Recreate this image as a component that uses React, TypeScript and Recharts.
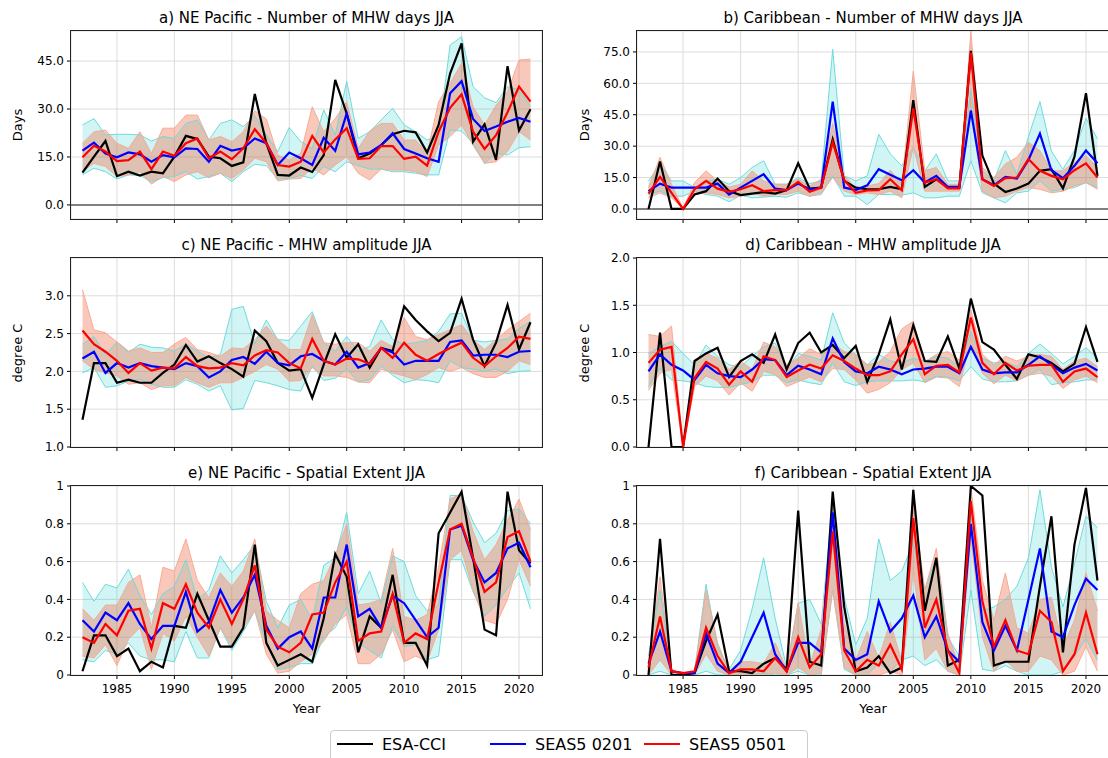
import React from 'react';
import { ComposedChart, Line, Area, XAxis, YAxis, CartesianGrid, ReferenceLine } from 'recharts';

// ---------- data ----------
const years = [1982, 1983, 1984, 1985, 1986, 1987, 1988, 1989, 1990, 1991, 1992, 1993, 1994, 1995, 1996, 1997, 1998, 1999, 2000, 2001, 2002, 2003, 2004, 2005, 2006, 2007, 2008, 2009, 2010, 2011, 2012, 2013, 2014, 2015, 2016, 2017, 2018, 2019, 2020, 2021];
const xTicks = [1985, 1990, 1995, 2000, 2005, 2010, 2015, 2020];

// a) NE Pacific - days
const aObs = [10.1, 15.1, 20, 9, 10.4, 9.2, 10.4, 9.9, 15.1, 21.6, 20.6, 15.1, 14.6, 12.2, 13.3, 34.7, 19.3, 9.4, 9.2, 11.7, 10.3, 15.6, 39.1, 28.6, 14.6, 16.1, 18.7, 22.1, 23.2, 22.7, 16.4, 25, 41.1, 50.5, 19.8, 25.2, 14.1, 43.4, 23.3, 29.9];
const aS2 = [17, 19.5, 16.1, 14.9, 16.4, 15.8, 13.5, 15.6, 14.9, 17.7, 17.5, 13.5, 18.5, 17, 17.7, 20.8, 19.3, 12.5, 16.4, 14.6, 12.5, 21, 16.9, 28.6, 15.8, 16.4, 18.7, 22.4, 17.5, 16.1, 14.6, 13.5, 34.9, 38.7, 26.9, 23.1, 24.5, 26, 27.2, 26];
const aS5 = [14.9, 18.5, 16.7, 13.7, 14, 16.7, 11.2, 16.7, 15.4, 19.3, 20.8, 14.6, 16.7, 14.3, 17.7, 23.7, 19.3, 12.5, 12, 13.5, 21.6, 16.4, 20.5, 24, 14.4, 14.6, 18.4, 18.4, 14.4, 15.1, 12.3, 22.9, 30.4, 34.6, 22.9, 17.5, 21.8, 29, 37, 32.3];
const aS2Lo = [9.4, 11.5, 10.4, 8.1, 9.4, 9.2, 7.3, 8.5, 8.9, 10.4, 8.1, 8.9, 9.9, 7.3, 10.4, 12.7, 12.3, 8.1, 8.3, 9.2, 8.3, 12, 10.4, 13.5, 12.3, 11.2, 11.2, 10.4, 10.4, 9.9, 9.4, 9.4, 23.4, 23.1, 19.3, 13, 16.1, 15.6, 17.9, 18.2];
const aS2Hi = [25, 27, 21.9, 22.1, 22.1, 21.9, 20, 21.4, 20.8, 25.5, 26.6, 20.3, 25.5, 26.6, 24.5, 27.9, 21.9, 16.7, 24.2, 19.8, 17.7, 29.7, 21.9, 38.7, 20.8, 22.9, 26.6, 30.2, 25, 22.9, 20.3, 21.9, 50, 52.6, 37, 33.5, 32, 37, 36, 31];
const aS5Lo = [10.4, 13, 12, 8.9, 9.4, 10.4, 6.5, 8.9, 7.3, 9.4, 10.4, 8.5, 9.9, 8.3, 10.9, 14.6, 13.5, 7.5, 8.1, 8.3, 11.5, 9.4, 12.5, 15.1, 9.9, 7.8, 11.2, 10.9, 10.9, 10.4, 8.9, 18.7, 21.4, 25, 18.7, 13, 13.5, 16.7, 22.9, 20.3];
const aS5Hi = [19.3, 22.9, 23.4, 19.3, 17.7, 22.9, 16.1, 24, 24, 28.1, 28.1, 20.3, 21.4, 19.8, 22.9, 29.4, 26.9, 15.6, 14.1, 16.1, 30.7, 22.9, 27, 32.3, 17.7, 23.1, 25.5, 25.5, 20.3, 20.3, 16.1, 32.3, 38, 44.3, 30.7, 25, 31.2, 35.4, 45.3, 45.6];

// b) Caribbean - days
const bObs = [0, 22.7, 0, 0, 6.9, 8.5, 14.5, 8.5, 6.6, 7.3, 8, 7.3, 9, 21.8, 9.7, 10.2, 33.2, 13.4, 10.2, 9.4, 9.4, 10.5, 9.4, 52, 10.5, 14.2, 10.2, 10.2, 75.5, 25.5, 12.1, 8.1, 9.8, 12.1, 18.2, 19, 9.8, 25, 55.3, 15.8];
const bS2 = [8.5, 12.1, 10.2, 10.2, 10.2, 10.2, 12.1, 6.9, 10.2, 13.4, 16.6, 9.7, 9, 12.1, 9.4, 10.2, 51.3, 10.2, 9, 11.3, 19, 16.3, 13.7, 18.5, 12.6, 15.8, 10.5, 10.5, 47, 14.2, 11.3, 15.3, 14.5, 23.4, 36, 18.5, 14.7, 20.6, 27.9, 21.8];
const bS5 = [7.3, 15.3, 7.7, 0, 9.4, 13.4, 9.7, 8.2, 9.4, 11.3, 8.5, 9, 9, 12.9, 8.2, 10.2, 31.9, 13.7, 7.7, 8.9, 9, 14.2, 8.9, 48, 12.6, 14.2, 9.8, 9.8, 74.7, 14.2, 11, 14.7, 15, 23.9, 18.2, 15.8, 14.2, 18.5, 21.8, 15];
const bS2Lo = [6.9, 8.5, 6.1, 6.1, 8.5, 6.9, 6.1, 3.4, 6.6, 5.3, 5.6, 6.1, 5.6, 7.7, 6.1, 6.9, 15.8, 6.1, 6.1, 2.1, 6.9, 6.9, 6.6, 7.7, 5.3, 5.3, 6.1, 6.1, 23, 7.7, 5.3, 2.9, 7.7, 8.5, 13.4, 8.5, 9.4, 10.2, 12.6, 10.2];
const bS2Hi = [13.4, 21.5, 13.4, 13.4, 10.2, 13.4, 14.2, 11.8, 15, 19.8, 23, 11.8, 11.8, 15, 12.1, 13.4, 76.3, 15.8, 13.4, 15.8, 35.6, 26.3, 20.6, 29.5, 18.2, 26.3, 13.4, 13.4, 57, 18.2, 13.4, 27.9, 16.6, 34.4, 51.3, 27.6, 19, 27.9, 43.2, 33.5];
const bS5Lo = [5.3, 7.7, 5.3, 0, 6.9, 7.7, 6.9, 5.3, 6.1, 7.7, 6.1, 6.9, 6.9, 8.5, 6.1, 7.7, 15, 8.5, 6.9, 7.7, 6.9, 8.5, 5.3, 29.5, 8.5, 8.5, 8.5, 8.5, 48.9, 8.5, 5.3, 6.1, 8.5, 10.2, 9.4, 7.7, 8.5, 11, 12.6, 9.4];
const bS5Hi = [10.2, 24.7, 11.8, 0.3, 12.6, 18.2, 13.4, 10.5, 11.8, 18.2, 13.4, 11.8, 11.8, 14.2, 11, 14.2, 40.8, 15.8, 10.2, 11, 12.1, 18.5, 12.1, 65.8, 18.2, 19.8, 11.8, 11.8, 85, 19.8, 15, 21.5, 24.7, 31.9, 27.9, 18.2, 18.2, 22.3, 25.5, 19.8];

// c) NE Pacific - amplitude
const cObs = [1.36, 2.11, 2.11, 1.85, 1.89, 1.85, 1.85, 1.98, 2.09, 2.35, 2.13, 2.2, 2.11, 2.03, 1.93, 2.54, 2.4, 2.11, 2.01, 2.03, 1.65, 2.09, 2.49, 2.18, 2.36, 2.05, 2.31, 2.27, 2.86, 2.68, 2.53, 2.4, 2.51, 2.96, 2.42, 2.07, 2.38, 2.88, 2.29, 2.65];
const cS2 = [2.17, 2.26, 1.98, 2.11, 2.05, 2.11, 2.07, 2.05, 2.03, 2.11, 2.07, 1.92, 2.0, 2.15, 2.19, 2.1, 2.26, 2.11, 2.08, 2.2, 2.23, 2.14, 2.09, 2.26, 2.05, 2.11, 2.31, 2.25, 2.09, 2.14, 2.14, 2.14, 2.39, 2.41, 2.21, 2.22, 2.22, 2.19, 2.26, 2.27];
const cS5 = [2.54, 2.36, 2.26, 2.14, 1.98, 2.11, 2.01, 2.05, 2.04, 2.19, 2.07, 2.04, 2.05, 2.11, 2.08, 2.21, 2.28, 2.25, 2.11, 2.04, 2.43, 2.14, 2.09, 2.17, 2.16, 2.1, 2.31, 2.18, 2.38, 2.22, 2.14, 2.23, 2.31, 2.38, 2.18, 2.07, 2.2, 2.31, 2.46, 2.43];
const cS2Lo = [1.98, 2.05, 1.79, 1.81, 1.87, 1.89, 1.83, 1.79, 1.79, 1.89, 1.83, 1.74, 1.81, 1.49, 1.51, 1.88, 1.85, 1.81, 1.76, 1.74, 2.07, 1.88, 1.91, 2.03, 1.86, 1.89, 2.07, 1.95, 1.85, 1.89, 1.88, 1.85, 2.14, 2.05, 2.03, 2.0, 2.03, 1.97, 2.0, 2.01];
const cS2Hi = [2.36, 2.46, 2.22, 2.39, 2.25, 2.36, 2.32, 2.31, 2.27, 2.36, 2.27, 2.18, 2.22, 2.82, 2.86, 2.36, 2.68, 2.42, 2.41, 2.6, 2.79, 2.38, 2.27, 2.46, 2.27, 2.33, 2.68, 2.42, 2.36, 2.38, 2.41, 2.53, 2.76, 2.77, 2.41, 2.39, 2.41, 2.43, 2.57, 2.66];
const cS5Lo = [2.14, 2.03, 1.98, 1.94, 1.83, 1.85, 1.76, 1.81, 1.81, 1.92, 1.85, 1.79, 1.85, 1.85, 1.92, 2.0, 2.09, 2.03, 1.87, 1.88, 2.05, 1.94, 1.94, 1.92, 1.86, 1.85, 2.03, 1.98, 1.94, 1.89, 1.96, 2.05, 2.0, 2.05, 1.97, 1.92, 1.92, 2.0, 2.14, 2.09];
const cS5Hi = [3.08, 2.55, 2.51, 2.39, 2.27, 2.31, 2.25, 2.25, 2.36, 2.45, 2.29, 2.25, 2.2, 2.31, 2.3, 2.42, 2.6, 2.42, 2.29, 2.29, 2.75, 2.38, 2.36, 2.38, 2.38, 2.27, 2.41, 2.33, 2.71, 2.46, 2.42, 2.49, 2.55, 2.62, 2.42, 2.29, 2.42, 2.55, 2.66, 2.77];

// d) Caribbean - amplitude
const dObs = [0, 1.21, 0, 0, 0.91, 0.99, 1.05, 0.74, 0.91, 0.98, 0.89, 1.19, 0.82, 1.1, 1.21, 1.0, 1.08, 0.94, 1.07, 0.69, 0.98, 1.35, 0.82, 1.29, 0.91, 0.9, 1.17, 0.83, 1.57, 1.11, 1.03, 0.87, 0.72, 0.98, 0.95, 0.89, 0.8, 0.88, 1.27, 0.9];
const dS2 = [0.8, 0.98, 0.87, 0.81, 0.71, 0.87, 0.78, 0.75, 0.74, 0.82, 0.93, 0.92, 0.76, 0.86, 0.82, 0.77, 1.15, 0.9, 0.8, 0.78, 0.85, 0.82, 0.77, 0.82, 0.83, 0.85, 0.85, 0.78, 1.06, 0.82, 0.78, 0.79, 0.79, 0.87, 0.96, 0.87, 0.78, 0.84, 0.88, 0.81];
const dS5 = [0.89, 1.03, 1.06, 0, 0.73, 0.9, 0.83, 0.66, 0.8, 0.69, 0.96, 0.92, 0.74, 0.81, 0.87, 0.83, 0.97, 0.91, 0.83, 0.76, 0.76, 0.8, 0.98, 1.14, 0.77, 0.86, 0.87, 0.79, 1.37, 0.89, 0.77, 0.89, 0.81, 0.86, 0.87, 0.87, 0.69, 0.8, 0.83, 0.74];
const dS2Lo = [0.64, 0.83, 0.71, 0.7, 0.68, 0.64, 0.63, 0.63, 0.66, 0.69, 0.76, 0.76, 0.68, 0.71, 0.68, 0.66, 0.89, 0.69, 0.65, 0.69, 0.7, 0.7, 0.7, 0.71, 0.69, 0.75, 0.74, 0.7, 0.85, 0.72, 0.69, 0.69, 0.7, 0.76, 0.82, 0.66, 0.68, 0.69, 0.71, 0.71];
const dS2Hi = [0.99, 1.06, 1.12, 0.99, 0.87, 1.08, 0.96, 0.87, 0.85, 0.96, 1.06, 1.1, 0.83, 0.99, 0.96, 0.92, 1.42, 1.1, 0.98, 0.87, 0.98, 0.91, 0.89, 0.94, 0.91, 0.96, 0.94, 0.85, 1.22, 0.94, 0.89, 0.9, 0.85, 0.99, 1.09, 0.99, 0.88, 0.96, 1.05, 0.94];
const dS5Lo = [0.6, 0.78, 0.82, 0, 0.64, 0.75, 0.7, 0.55, 0.68, 0.59, 0.8, 0.77, 0.64, 0.69, 0.74, 0.69, 0.83, 0.82, 0.71, 0.57, 0.61, 0.68, 0.82, 0.89, 0.68, 0.74, 0.73, 0.64, 1.12, 0.78, 0.67, 0.76, 0.7, 0.76, 0.78, 0.75, 0.62, 0.71, 0.75, 0.68];
const dS5Hi = [1.19, 1.17, 1.28, 0, 0.9, 0.99, 0.94, 0.82, 0.91, 0.82, 1.11, 1.06, 0.87, 0.94, 1.04, 0.98, 1.1, 1.01, 0.98, 0.87, 0.9, 1.01, 1.25, 1.33, 0.9, 0.98, 1.01, 0.92, 1.45, 0.98, 0.87, 0.96, 0.91, 0.96, 0.98, 0.96, 0.82, 0.91, 0.94, 0.85];

// e) NE Pacific - spatial extent
const eObs = [0.02, 0.21, 0.21, 0.1, 0.14, 0.02, 0.07, 0.04, 0.26, 0.25, 0.43, 0.29, 0.15, 0.15, 0.25, 0.69, 0.17, 0.05, 0.08, 0.11, 0.07, 0.3, 0.64, 0.52, 0.12, 0.31, 0.25, 0.53, 0.17, 0.17, 0.05, 0.75, 0.86, 0.97, 0.62, 0.24, 0.21, 0.97, 0.66, 0.59];
const eS2 = [0.29, 0.23, 0.33, 0.29, 0.38, 0.27, 0.19, 0.26, 0.26, 0.44, 0.23, 0.28, 0.45, 0.33, 0.41, 0.53, 0.26, 0.14, 0.2, 0.23, 0.14, 0.41, 0.41, 0.69, 0.31, 0.35, 0.25, 0.42, 0.38, 0.29, 0.2, 0.25, 0.77, 0.79, 0.61, 0.49, 0.54, 0.67, 0.7, 0.57];
const eS5 = [0.2, 0.17, 0.27, 0.21, 0.34, 0.35, 0.14, 0.38, 0.35, 0.48, 0.33, 0.25, 0.4, 0.27, 0.4, 0.58, 0.24, 0.15, 0.12, 0.17, 0.32, 0.33, 0.49, 0.6, 0.18, 0.22, 0.23, 0.43, 0.17, 0.22, 0.19, 0.49, 0.77, 0.8, 0.62, 0.44, 0.49, 0.73, 0.76, 0.6];
const eS2Lo = [0.08, 0.07, 0.13, 0.11, 0.17, 0.1, 0.08, 0.08, 0.07, 0.23, 0.09, 0.09, 0.25, 0.13, 0.23, 0.34, 0.17, 0.03, 0.04, 0.06, 0.06, 0.2, 0.25, 0.36, 0.17, 0.13, 0.09, 0.26, 0.15, 0.16, 0.08, 0.1, 0.61, 0.61, 0.44, 0.31, 0.37, 0.46, 0.54, 0.35];
const eS2Hi = [0.49, 0.39, 0.48, 0.46, 0.56, 0.42, 0.32, 0.43, 0.47, 0.61, 0.4, 0.45, 0.63, 0.54, 0.61, 0.69, 0.39, 0.25, 0.37, 0.4, 0.29, 0.58, 0.62, 0.86, 0.43, 0.55, 0.38, 0.63, 0.6, 0.42, 0.34, 0.37, 0.95, 0.95, 0.81, 0.7, 0.75, 0.87, 0.88, 0.8];
const eS5Lo = [0.1, 0.09, 0.16, 0.05, 0.19, 0.25, 0.03, 0.22, 0.18, 0.31, 0.2, 0.1, 0.25, 0.15, 0.25, 0.34, 0.11, 0.01, 0.02, 0.07, 0.11, 0.18, 0.27, 0.32, 0.06, 0.06, 0.11, 0.24, 0.07, 0.1, 0.07, 0.24, 0.61, 0.66, 0.45, 0.29, 0.27, 0.4, 0.61, 0.47];
const eS5Hi = [0.35, 0.29, 0.37, 0.37, 0.49, 0.53, 0.25, 0.57, 0.55, 0.72, 0.5, 0.41, 0.54, 0.47, 0.55, 0.72, 0.34, 0.29, 0.25, 0.43, 0.48, 0.5, 0.63, 0.8, 0.37, 0.38, 0.4, 0.67, 0.31, 0.29, 0.32, 0.57, 0.93, 0.96, 0.76, 0.61, 0.69, 0.82, 0.93, 0.77];

// f) Caribbean - spatial extent
const fObs = [0, 0.72, 0, 0, 0.01, 0.18, 0.32, 0.02, 0.02, 0.01, 0.06, 0.09, 0.03, 0.87, 0.07, 0.05, 0.97, 0.36, 0.02, 0.04, 0.1, 0.01, 0.04, 0.98, 0.34, 0.62, 0.05, 0.08, 1.0, 0.95, 0.05, 0.07, 0.07, 0.07, 0.47, 0.84, 0.12, 0.69, 0.99, 0.5];
const fS2 = [0.06, 0.23, 0.02, 0.01, 0.01, 0.22, 0.06, 0.01, 0.07, 0.2, 0.33, 0.11, 0.02, 0.17, 0.17, 0.12, 0.86, 0.14, 0.08, 0.11, 0.39, 0.23, 0.3, 0.42, 0.2, 0.31, 0.13, 0.07, 0.8, 0.28, 0.13, 0.26, 0.13, 0.4, 0.67, 0.23, 0.2, 0.37, 0.51, 0.45];
const fS5 = [0.04, 0.31, 0.02, 0.01, 0.02, 0.25, 0.1, 0.01, 0.03, 0.03, 0.02, 0.09, 0.02, 0.2, 0.04, 0.11, 0.76, 0.13, 0.02, 0.08, 0.05, 0.16, 0.03, 0.83, 0.25, 0.4, 0.13, 0.01, 0.92, 0.39, 0.15, 0.29, 0.13, 0.11, 0.34, 0.28, 0.02, 0.11, 0.33, 0.11];
const fS2Lo = [0, 0.02, 0, 0, 0, 0.02, 0, 0, 0, 0, 0.01, 0, 0, 0.02, 0, 0, 0.45, 0.03, 0, 0, 0.06, 0.02, 0.08, 0.1, 0.05, 0.08, 0.02, 0, 0.45, 0.03, 0.02, 0.05, 0.02, 0, 0, 0, 0.02, 0.1, 0.19, 0.08];
const fS2Hi = [0.1, 0.45, 0.02, 0.01, 0.02, 0.48, 0.15, 0.03, 0.13, 0.35, 0.62, 0.3, 0.04, 0.38, 0.4, 0.27, 0.92, 0.41, 0.16, 0.3, 0.72, 0.5, 0.55, 0.7, 0.45, 0.62, 0.2, 0.1, 0.85, 0.34, 0.36, 0.4, 0.47, 0.62, 0.98, 0.57, 0.36, 0.59, 0.84, 0.78];
const fS5Lo = [0, 0.08, 0, 0, 0, 0.11, 0.02, 0, 0, 0, 0, 0.01, 0, 0.04, 0, 0.01, 0.45, 0.04, 0, 0, 0, 0.02, 0, 0.55, 0.08, 0.14, 0.02, 0, 0.73, 0.2, 0.02, 0.08, 0.02, 0.02, 0.1, 0.08, 0, 0.02, 0.15, 0.02];
const fS5Hi = [0.08, 0.52, 0.03, 0.01, 0.01, 0.45, 0.17, 0.02, 0.07, 0.07, 0.06, 0.17, 0.03, 0.38, 0.05, 0.24, 0.88, 0.27, 0.08, 0.23, 0.09, 0.28, 0.07, 0.91, 0.45, 0.67, 0.22, 0.04, 0.99, 0.5, 0.29, 0.54, 0.25, 0.22, 0.4, 0.41, 0.15, 0.29, 0.54, 0.34];

const daysTicksA = [0, 15, 30, 45];
const daysTicksB = [0, 15, 30, 45, 60, 75];
const ampTicksC = [1.0, 1.5, 2.0, 2.5, 3.0];
const ampTicksD = [0.0, 0.5, 1.0, 1.5, 2.0];
const extTicks = [0, 0.2, 0.4, 0.6, 0.8, 1];

// ---------- helpers ----------
function buildRows(obs: number[], s2: number[], s5: number[], s2lo: number[], s2hi: number[], s5lo: number[], s5hi: number[]) {
  return years.map((year, i) => ({
    year,
    obs: obs[i],
    s2: s2[i],
    s5: s5[i],
    s2lo: s2lo[i],
    s2hi: s2hi[i],
    s5lo: s5lo[i],
    s5hi: s5hi[i],
    s2band: [s2lo[i], s2hi[i]],
    s5band: [s5lo[i], s5hi[i]],
  }));
}

const fmt1 = (v: number) => v.toFixed(1);
const fmtExt = (v: number) => (v === 0 ? '0' : v === 1 ? '1' : String(v));

const FONT = 'DejaVu Sans, sans-serif';
const CYAN = '#00c4c4';
const CYAN_EDGE = '#6ddcdc';
const SALMON = '#f26a45';
const SALMON_EDGE = '#f7ab96';

const panels = [
  { key: 'a', title: 'a) NE Pacific - Number of MHW days JJA', rows: buildRows(aObs, aS2, aS5, aS2Lo, aS2Hi, aS5Lo, aS5Hi), x: 71, y: 31, w: 471, h: 188, domain: [-4.4, 54.4], ticks: daysTicksA, fmt: fmt1, showX: false, zero: true, ylabel: 'Days', ylx: 18 },
  { key: 'b', title: 'b) Caribbean - Number of MHW days JJA', rows: buildRows(bObs, bS2, bS5, bS2Lo, bS2Hi, bS5Lo, bS5Hi), x: 637, y: 31, w: 472, h: 188, domain: [-4.8, 85], ticks: daysTicksB, fmt: fmt1, showX: false, zero: true, ylabel: 'Days', ylx: 585 },
  { key: 'c', title: 'c) NE Pacific - MHW amplitude JJA', rows: buildRows(cObs, cS2, cS5, cS2Lo, cS2Hi, cS5Lo, cS5Hi), x: 71, y: 258, w: 471, h: 189, domain: [1, 3.5], ticks: ampTicksC, fmt: fmt1, showX: false, zero: false, ylabel: 'degree C', ylx: 18 },
  { key: 'd', title: 'd) Caribbean - MHW amplitude JJA', rows: buildRows(dObs, dS2, dS5, dS2Lo, dS2Hi, dS5Lo, dS5Hi), x: 637, y: 258, w: 472, h: 189, domain: [0, 2], ticks: ampTicksD, fmt: fmt1, showX: false, zero: false, ylabel: 'degree C', ylx: 585 },
  { key: 'e', title: 'e) NE Pacific - Spatial Extent JJA', rows: buildRows(eObs, eS2, eS5, eS2Lo, eS2Hi, eS5Lo, eS5Hi), x: 71, y: 486, w: 471, h: 189, domain: [0, 1], ticks: extTicks, fmt: fmtExt, showX: true, zero: false, ylabel: '', ylx: 18 },
  { key: 'f', title: 'f) Caribbean - Spatial Extent JJA', rows: buildRows(fObs, fS2, fS5, fS2Lo, fS2Hi, fS5Lo, fS5Hi), x: 637, y: 486, w: 472, h: 189, domain: [0, 1], ticks: extTicks, fmt: fmtExt, showX: true, zero: false, ylabel: '', ylx: 585 },
];

const YW = 60;
const MT = 6;
const MR = 6;
const XH = 30;

function Panel({ p }: { p: any }) {
  return (
    <>
      <div style={{ position: 'absolute', left: p.x - YW, top: p.y - MT }}>
        <ComposedChart width={p.w + YW + MR} height={p.h + MT + XH} data={p.rows} margin={{ top: MT, right: MR, bottom: 0, left: 0 }}>
          <CartesianGrid stroke="#dcdcdc" strokeWidth={1} />
          <XAxis
            dataKey="year"
            type="number"
            domain={[1981, 2022]}
            ticks={xTicks}
            allowDataOverflow
            height={XH}
            axisLine={false}
            tickLine={{ stroke: '#000' }}
            tickSize={4}
            tickMargin={5}
            interval={0}
            tick={{ fontSize: 12, fill: '#000', fontFamily: FONT }}
            tickFormatter={p.showX ? (v: number) => String(v) : () => ''}
          />
          <YAxis
            type="number"
            domain={p.domain}
            ticks={p.ticks}
            allowDataOverflow
            width={YW}
            axisLine={false}
            tickLine={{ stroke: '#000' }}
            tickSize={4}
            tickMargin={3}
            interval={0}
            tick={{ fontSize: 12, fill: '#000', fontFamily: FONT }}
            tickFormatter={p.fmt}
          />
          {p.zero && <ReferenceLine y={0} stroke="#808080" strokeWidth={2} />}
          <Area type="linear" dataKey="s2band" fill={CYAN} fillOpacity={0.18} stroke="none" isAnimationActive={false} activeDot={false} />
          <Line type="linear" dataKey="s2hi" stroke={CYAN_EDGE} strokeWidth={1} dot={false} activeDot={false} isAnimationActive={false} />
          <Line type="linear" dataKey="s2lo" stroke={CYAN_EDGE} strokeWidth={1} dot={false} activeDot={false} isAnimationActive={false} />
          <Area type="linear" dataKey="s5band" fill={SALMON} fillOpacity={0.37} stroke="none" isAnimationActive={false} activeDot={false} />
          <Line type="linear" dataKey="s5hi" stroke={SALMON_EDGE} strokeWidth={1} dot={false} activeDot={false} isAnimationActive={false} />
          <Line type="linear" dataKey="s5lo" stroke={SALMON_EDGE} strokeWidth={1} dot={false} activeDot={false} isAnimationActive={false} />
          <Line type="linear" dataKey="obs" stroke="#000000" strokeWidth={2.2} dot={false} activeDot={false} isAnimationActive={false} />
          <Line type="linear" dataKey="s2" stroke="#0000ff" strokeWidth={2.2} dot={false} activeDot={false} isAnimationActive={false} />
          <Line type="linear" dataKey="s5" stroke="#ff0000" strokeWidth={2.2} dot={false} activeDot={false} isAnimationActive={false} />
        </ComposedChart>
      </div>
      <div style={{ position: 'absolute', left: p.x - 1, top: p.y - 1, width: p.w + 2, height: p.h + 2, border: '1px solid #222', boxSizing: 'border-box', pointerEvents: 'none' }} />
      <div style={{ position: 'absolute', left: p.x, top: p.y - 22, width: p.w, textAlign: 'center', fontSize: 15, lineHeight: '18px', color: '#000', whiteSpace: 'nowrap' }}>{p.title}</div>
      {p.ylabel && (
        <div style={{ position: 'absolute', left: p.ylx - 100, top: p.y + p.h / 2 - 9, width: 200, height: 18, lineHeight: '18px', textAlign: 'center', fontSize: 13, color: '#000', transform: 'rotate(-90deg)' }}>{p.ylabel}</div>
      )}
      {p.showX && (
        <div style={{ position: 'absolute', left: p.x, top: 700, width: p.w, textAlign: 'center', fontSize: 13, lineHeight: '18px', color: '#000' }}>Year</div>
      )}
    </>
  );
}

const legendItems = [
  { label: 'ESA-CCI', color: '#000000', x: 337 },
  { label: 'SEAS5 0201', color: '#0000ff', x: 490 },
  { label: 'SEAS5 0501', color: '#ff0000', x: 644 },
];

export default function App() {
  return (
    <div style={{ position: 'absolute', left: 0, top: 0, width: 1108, height: 758, overflow: 'hidden', background: '#fff', fontFamily: FONT }}>
      {panels.map((p) => (
        <Panel key={p.key} p={p} />
      ))}
      <div style={{ position: 'absolute', left: 330, top: 730, width: 478, height: 40, border: '1px solid #cccccc', borderRadius: 4, boxSizing: 'border-box', background: '#fff' }} />
      {legendItems.map((it) => (
        <React.Fragment key={it.label}>
          <svg style={{ position: 'absolute', left: it.x, top: 740 }} width={36} height={8}>
            <line x1={0} y1={4} x2={36} y2={4} stroke={it.color} strokeWidth={2.2} />
          </svg>
          <div style={{ position: 'absolute', left: it.x + 45, top: 735, fontSize: 16, lineHeight: '20px', color: '#000', whiteSpace: 'nowrap' }}>{it.label}</div>
        </React.Fragment>
      ))}
    </div>
  );
}
